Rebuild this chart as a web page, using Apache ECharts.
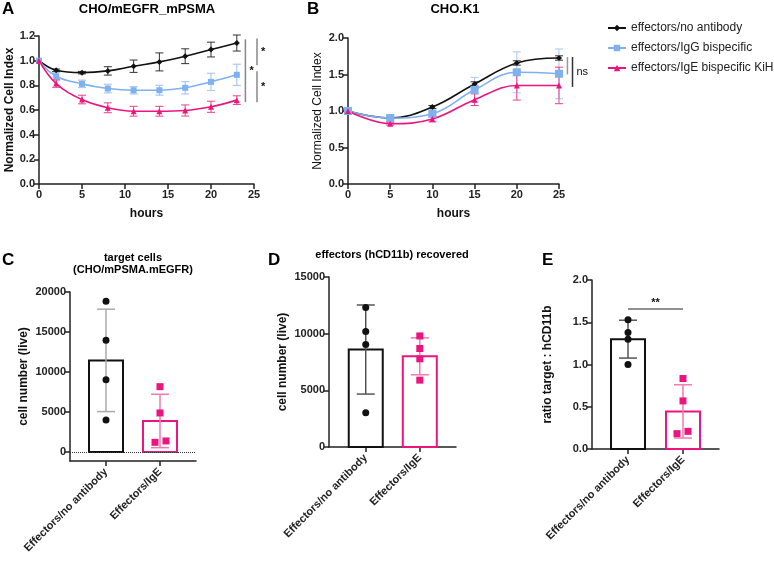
<!DOCTYPE html>
<html>
<head>
<meta charset="utf-8">
<script src="https://cdn.jsdelivr.net/npm/echarts@6/dist/echarts.min.js"></script>
<style>html,body{margin:0;background:#fff}#main{width:774px;height:561px}</style>
</head>
<body>
<div id="main"></div>
<script>
// panel A: CHO/mEGFR_mPSMA
const hoursA = [0, 2, 5, 8, 11, 14, 17, 20, 23];
const aNoAb = [1.0, 0.922, 0.903, 0.917, 0.955, 0.99, 1.036, 1.09, 1.143];
const aNoAbErr = [0, 0.01, 0.01, 0.034, 0.05, 0.073, 0.06, 0.06, 0.065];
const aIgG = [1.0, 0.874, 0.812, 0.774, 0.76, 0.76, 0.78, 0.828, 0.885];
const aIgGErr = [0, 0.03, 0.03, 0.035, 0.03, 0.04, 0.05, 0.07, 0.086];
const aIgE = [1.0, 0.814, 0.685, 0.618, 0.59, 0.59, 0.596, 0.626, 0.68];
const aIgEErr = [0, 0.03, 0.035, 0.04, 0.04, 0.04, 0.045, 0.045, 0.035];

// panel B: CHO.K1
const hoursB = [0, 5, 10, 15, 20, 25];
const bNoAb = [1.0, 0.904, 1.055, 1.37, 1.658, 1.726];
const bNoAbErr = [0, 0.01, 0.02, 0.03, 0.03, 0.03];
const bIgG = [1.0, 0.904, 0.963, 1.29, 1.53, 1.51];
const bIgGErr = [0, 0.02, 0.05, 0.17, 0.28, 0.34];
const bIgE = [1.0, 0.826, 0.89, 1.155, 1.35, 1.35];
const bIgEErr = [0, 0.02, 0.04, 0.08, 0.2, 0.25];

const seriesNames = ['effectors/no antibody', 'effectors/IgG bispecific', 'effectors/IgE bispecific KiH'];
const groups = ['Effectors/no antibody', 'Effectors/IgE'];

// panel C: target cells
const cMean = [11450, 3880];
const cSd = [6400, 3340];
const cNoAbPts = [18830, 13960, 9040, 4000];
const cIgEPts = [8170, 4880, 1210, 1380];

// panel D: effectors recovered
const dMean = [8600, 8000];
const dSd = [3930, 1630];
const dNoAbPts = [12300, 10190, 9040, 3020];
const dIgEPts = [9800, 8690, 7780, 5900];

// panel E: ratio
const eMean = [1.30, 0.445];
const eSd = [0.224, 0.315];
const eNoAbPts = [1.53, 1.38, 1.30, 1.0];
const eIgEPts = [0.834, 0.569, 0.182, 0.209];

// significance annotations
const sigAx = [24.0, 25.35, 25.35];
const sigAfrom = [1.173, 1.18, 0.914];
const sigAto = [0.663, 0.963, 0.663];
const sigBx = [26.0, 26.6];
const sigBfrom = [1.74, 1.74];
const sigBto = [1.50, 1.33];
const sigE = [0, 1, 1.657];

const BLACK = '#111', BLUE = '#7fb0ef', PINK = '#ec1580';
const FONT = 'Liberation Sans, Arial, sans-serif';

const chart = echarts.init(document.getElementById('main'));

function errRender(color, cap, lw) {
  return function (params, api) {
    const x = api.value(0), m = api.value(1), e = api.value(2);
    if (!e) return;
    const hi = api.coord([x, m + e]), lo = api.coord([x, m - e]);
    const st = { stroke: color, lineWidth: lw };
    return {
      type: 'group',
      children: [
        { type: 'line', shape: { x1: hi[0], y1: hi[1], x2: lo[0], y2: lo[1] }, style: st },
        { type: 'line', shape: { x1: hi[0] - cap / 2, y1: hi[1], x2: hi[0] + cap / 2, y2: hi[1] }, style: st },
        { type: 'line', shape: { x1: lo[0] - cap / 2, y1: lo[1], x2: lo[0] + cap / 2, y2: lo[1] }, style: st }
      ]
    };
  };
}

function barRender(colors) {
  return function (params, api) {
    const x = api.value(0), v = api.value(1);
    const p0 = api.coord([x, 0]), p1 = api.coord([x, v]);
    const w = 34;
    return {
      type: 'rect',
      shape: { x: p1[0] - w / 2, y: p1[1], width: w, height: p0[1] - p1[1] },
      style: { fill: 'none', stroke: colors[params.dataIndex], lineWidth: 2 }
    };
  };
}

const axisText = { color: '#222', fontWeight: 'bold', fontSize: 11, fontFamily: FONT };
const nameText = { color: '#111', fontWeight: 'bold', fontSize: 12, fontFamily: FONT };
const axLine = { show: true, onZero: false, lineStyle: { color: '#222', width: 1.5 } };
const axTick = { show: true, length: 5, lineStyle: { color: '#222', width: 1.5 } };

function lineSeries(gi, name, xs, ys, symbol, size, color) {
  return {
    name: name, type: 'line', xAxisIndex: gi, yAxisIndex: gi,
    data: xs.map((h, i) => [h, ys[i]]),
    smooth: 0.4, symbol: symbol, symbolSize: size,
    lineStyle: { color: color, width: 1.6 }, itemStyle: { color: color }, z: 4
  };
}
function errSeries(gi, xs, ys, es, color, cap, lw) {
  return {
    type: 'custom', xAxisIndex: gi, yAxisIndex: gi, z: 3, silent: true,
    data: xs.map((h, i) => [h, ys[i], es[i]]),
    renderItem: errRender(color, cap, lw)
  };
}
function barPanel(gi, means, sds, ptsA, ptsB, jitterB, errColors) {
  return [
    {
      type: 'custom', xAxisIndex: gi, yAxisIndex: gi, z: 2, silent: true,
      data: means.map((m, i) => [i, m]),
      renderItem: barRender([BLACK, PINK])
    },
    {
      type: 'custom', xAxisIndex: gi, yAxisIndex: gi, z: 3, silent: true,
      data: [[0, means[0], sds[0]]],
      renderItem: errRender(errColors[0], 18, 1.5)
    },
    {
      type: 'custom', xAxisIndex: gi, yAxisIndex: gi, z: 3, silent: true,
      data: [[1, means[1], sds[1]]],
      renderItem: errRender(errColors[1], 18, 1.5)
    },
    {
      type: 'scatter', xAxisIndex: gi, yAxisIndex: gi, z: 5,
      symbol: 'circle', symbolSize: 7, itemStyle: { color: BLACK, opacity: 1 },
      data: ptsA.map(v => [0, v])
    },
    {
      type: 'scatter', xAxisIndex: gi, yAxisIndex: gi, z: 5,
      symbol: 'rect', symbolSize: 7, itemStyle: { color: PINK, opacity: 1 },
      data: ptsB.map((v, i) => ({ value: [1, v], symbolOffset: [jitterB[i], 0] }))
    }
  ];
}

const grids = [
  { left: 39, top: 36, width: 215, height: 148 },
  { left: 348, top: 38, width: 211, height: 146 },
  { left: 70, top: 292, width: 126, height: 169 },
  { left: 329, top: 277, width: 127, height: 170 },
  { left: 592, top: 280, width: 127, height: 169 }
];

function hoursAxis(gi) {
  return {
    gridIndex: gi, type: 'value', min: 0, max: 25, interval: 5,
    axisLine: axLine, axisTick: axTick, splitLine: { show: false },
    axisLabel: Object.assign({ margin: 5 }, axisText),
    name: 'hours', nameLocation: 'middle', nameGap: 24, nameTextStyle: nameText
  };
}
function groupAxis(gi, min, max) {
  return {
    gridIndex: gi, type: 'value', min: min, max: max,
    axisLine: axLine, splitLine: { show: false },
    axisTick: Object.assign({ customValues: [0, 1] }, axTick),
    axisLabel: Object.assign({ customValues: [0, 1], rotate: 45, margin: 9,
      formatter: v => groups[Math.round(v)] }, axisText)
  };
}
const plain = v => String(v);

const option = {
  animation: false,
  backgroundColor: '#fff',
  textStyle: { fontFamily: FONT },
  grid: grids,
  legend: {
    data: seriesNames, orient: 'vertical', left: 602, top: 17,
    itemWidth: 18, itemHeight: 8, itemGap: 8,
    textStyle: { color: '#222', fontSize: 12, fontFamily: FONT }
  },
  xAxis: [
    hoursAxis(0),
    hoursAxis(1),
    groupAxis(2, -0.667, 1.667),
    groupAxis(3, -0.68, 1.67),
    groupAxis(4, -0.655, 1.655)
  ],
  yAxis: [
    {
      gridIndex: 0, type: 'value', min: 0, max: 1.2, interval: 0.2,
      axisLine: axLine, axisTick: axTick, splitLine: { show: false },
      axisLabel: Object.assign({ margin: 4, formatter: v => v.toFixed(1) }, axisText),
      name: 'Normalized Cell Index', nameLocation: 'middle', nameGap: 20, nameTextStyle: nameText
    },
    {
      gridIndex: 1, type: 'value', min: 0, max: 2, interval: 0.5,
      axisLine: axLine, axisTick: axTick, splitLine: { show: false },
      axisLabel: Object.assign({ margin: 4, formatter: v => v.toFixed(1) }, axisText),
      name: 'Normalized Cell Index', nameLocation: 'middle', nameGap: 24,
      nameTextStyle: { color: '#111', fontSize: 12, fontFamily: FONT }
    },
    {
      gridIndex: 2, type: 'value', min: -1125, max: 20000,
      axisLine: axLine, splitLine: { show: false },
      axisTick: Object.assign({ customValues: [0, 5000, 10000, 15000, 20000] }, axTick),
      axisLabel: Object.assign({ margin: 4, formatter: plain, customValues: [0, 5000, 10000, 15000, 20000] }, axisText),
      name: 'cell number (live)', nameLocation: 'middle', nameGap: 40, nameTextStyle: nameText
    },
    {
      gridIndex: 3, type: 'value', min: 0, max: 15000, interval: 5000,
      axisLine: axLine, axisTick: axTick, splitLine: { show: false },
      axisLabel: Object.assign({ margin: 4, formatter: plain }, axisText),
      name: 'cell number (live)', nameLocation: 'middle', nameGap: 40, nameTextStyle: nameText
    },
    {
      gridIndex: 4, type: 'value', min: 0, max: 2, interval: 0.5,
      axisLine: axLine, axisTick: axTick, splitLine: { show: false },
      axisLabel: Object.assign({ margin: 4, formatter: v => v.toFixed(1) }, axisText),
      name: 'ratio target : hCD11b', nameLocation: 'middle', nameGap: 38, nameTextStyle: nameText
    }
  ],
  graphic: [
    { type: 'text', x: 2, y: 1, style: { text: 'A', font: 'bold 17px ' + FONT, fill: '#000' } },
    { type: 'text', x: 307, y: 1, style: { text: 'B', font: 'bold 17px ' + FONT, fill: '#000' } },
    { type: 'text', x: 2, y: 252, style: { text: 'C', font: 'bold 17px ' + FONT, fill: '#000' } },
    { type: 'text', x: 268, y: 252, style: { text: 'D', font: 'bold 17px ' + FONT, fill: '#000' } },
    { type: 'text', x: 542, y: 252, style: { text: 'E', font: 'bold 17px ' + FONT, fill: '#000' } },
    { type: 'text', x: 147, y: 9, style: { text: 'CHO/mEGFR_mPSMA', font: 'bold 13px ' + FONT, fill: '#000', textAlign: 'center', textVerticalAlign: 'middle' } },
    { type: 'text', x: 455, y: 9, style: { text: 'CHO.K1', font: 'bold 13px ' + FONT, fill: '#000', textAlign: 'center', textVerticalAlign: 'middle' } },
    { type: 'text', x: 133, y: 258, style: { text: 'target cells', font: 'bold 11px ' + FONT, fill: '#000', textAlign: 'center', textVerticalAlign: 'middle' } },
    { type: 'text', x: 133, y: 270, style: { text: '(CHO/mPSMA.mEGFR)', font: 'bold 11px ' + FONT, fill: '#000', textAlign: 'center', textVerticalAlign: 'middle' } },
    { type: 'text', x: 392, y: 255, style: { text: 'effectors (hCD11b) recovered', font: 'bold 11px ' + FONT, fill: '#000', textAlign: 'center', textVerticalAlign: 'middle' } }
  ],
  series: [
    errSeries(0, hoursA, aNoAb, aNoAbErr, '#333', 8, 1),
    errSeries(0, hoursA, aIgG, aIgGErr, '#a9c9f3', 8, 1.2),
    errSeries(0, hoursA, aIgE, aIgEErr, '#e8408c', 8, 1),
    lineSeries(0, seriesNames[0], hoursA, aNoAb, 'diamond', 6, BLACK),
    lineSeries(0, seriesNames[1], hoursA, aIgG, 'rect', 6, BLUE),
    lineSeries(0, seriesNames[2], hoursA, aIgE, 'triangle', 6, PINK),
    errSeries(1, hoursB, bNoAb, bNoAbErr, '#333', 8, 1),
    errSeries(1, hoursB, bIgG, bIgGErr, '#b5d0f5', 8, 1.2),
    errSeries(1, hoursB, bIgE, bIgEErr, '#e8408c', 8, 1),
    lineSeries(1, seriesNames[0], hoursB, bNoAb, 'diamond', 6, BLACK),
    lineSeries(1, seriesNames[1], hoursB, bIgG, 'rect', 8, BLUE),
    lineSeries(1, seriesNames[2], hoursB, bIgE, 'triangle', 6, PINK),
    {
      type: 'custom', xAxisIndex: 0, yAxisIndex: 0, silent: true, clip: false,
      data: sigAx.map((x, i) => [x, sigAfrom[i], sigAto[i]]),
      renderItem: function (params, api) {
        const a = api.coord([api.value(0), api.value(1)]), b = api.coord([api.value(0), api.value(2)]);
        return { type: 'group', children: [
          { type: 'line', shape: { x1: a[0], y1: a[1], x2: b[0], y2: b[1] }, style: { stroke: '#888', lineWidth: 1.5 } },
          { type: 'text', x: a[0] + 4, y: (a[1] + b[1]) / 2, style: { text: '*', font: 'bold 11px ' + FONT, fill: '#111', textVerticalAlign: 'middle' } }
        ] };
      }
    },
    {
      type: 'custom', xAxisIndex: 1, yAxisIndex: 1, silent: true, clip: false,
      data: sigBx.map((x, i) => [x, sigBfrom[i], sigBto[i]]),
      renderItem: function (params, api) {
        const a = api.coord([api.value(0), api.value(1)]), b = api.coord([api.value(0), api.value(2)]);
        const kids = [{ type: 'line', shape: { x1: a[0], y1: a[1], x2: b[0], y2: b[1] },
          style: { stroke: params.dataIndex === 0 ? '#999' : '#333', lineWidth: 1.5 } }];
        if (params.dataIndex === 1) {
          kids.push({ type: 'text', x: a[0] + 4, y: (a[1] + b[1]) / 2, style: { text: 'ns', font: '11px ' + FONT, fill: '#111', textVerticalAlign: 'middle' } });
        }
        return { type: 'group', children: kids };
      }
    }
  ]
    .concat(barPanel(2, cMean, cSd, cNoAbPts, cIgEPts, [0, 0, -5, 6], ['#aaa', '#f37aae']))
    .concat(barPanel(3, dMean, dSd, dNoAbPts, dIgEPts, [0, 0, 0, 0], ['#555', '#f37aae']))
    .concat(barPanel(4, eMean, eSd, eNoAbPts, eIgEPts, [0, 0, -6, 5], ['#555', '#f37aae']))
    .concat([
      {
        type: 'scatter', xAxisIndex: 2, yAxisIndex: 2, symbolSize: 0, data: [],
        markLine: { symbol: 'none', silent: true, label: { show: false },
          lineStyle: { type: 'dotted', color: '#333', width: 1 }, data: [{ yAxis: 0 }] }
      },
      {
        type: 'custom', xAxisIndex: 4, yAxisIndex: 4, silent: true,
        data: [sigE],
        renderItem: function (params, api) {
          const a = api.coord([api.value(0), api.value(2)]), b = api.coord([api.value(1), api.value(2)]);
          return { type: 'group', children: [
            { type: 'line', shape: { x1: a[0], y1: a[1], x2: b[0], y2: b[1] }, style: { stroke: '#222', lineWidth: 1.2 } },
            { type: 'text', x: (a[0] + b[0]) / 2, y: a[1] - 6, style: { text: '**', font: 'bold 11px ' + FONT, fill: '#111', textAlign: 'center', textVerticalAlign: 'middle' } }
          ] };
        }
      }
    ])
};

chart.setOption(option);
</script>
</body>
</html>
